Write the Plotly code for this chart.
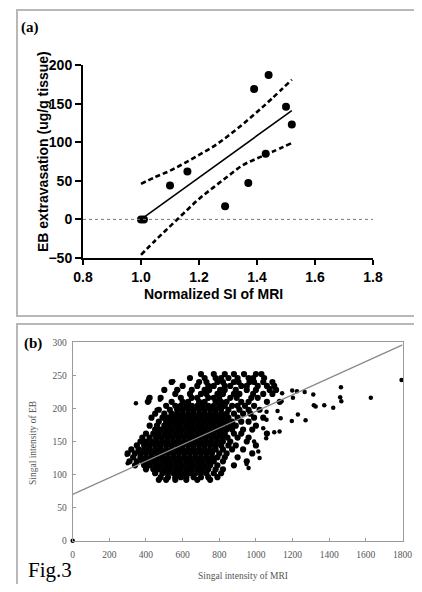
import plotly.graph_objects as go

# ---------------- Panel (a) data ----------------
a_x = [1.00, 1.01, 1.10, 1.16, 1.29, 1.37, 1.39, 1.43, 1.44, 1.50, 1.52]
a_y = [0, 0, 44, 62, 17, 47, 169, 85, 187, 146, 123]

fit_a_x = [1.00, 1.52]
fit_a_y = [0, 141]

band_x = [1.00, 1.05, 1.10, 1.15, 1.20, 1.25, 1.30, 1.35, 1.40, 1.45, 1.52]
band_upper = [46, 55, 63, 73, 83.5, 94.5, 108, 123, 139, 156, 181]
band_lower = [-46, -27, -9, 9, 26.5, 41.5, 56, 70, 79, 87, 99]

a_xticks = [0.8, 1.0, 1.2, 1.4, 1.6, 1.8]
a_yticks = [-50, 0, 50, 100, 150, 200]

# ---------------- Panel (b) data ----------------
cloud_rows = {
    252: [700, 770, 830, 880, 935, 1000, 1030],
    246: [640, 720, 780, 810, 850, 900, 960, 985, 1045],
    240: [540, 690, 730, 790, 820, 880, 905, 965, 990, 1040, 1090],
    234: [600, 680, 740, 770, 830, 860, 920, 950, 1010, 1060, 1100],
    228: [500, 570, 650, 720, 745, 805, 830, 890, 950, 1000, 1075, 1110],
    222: [560, 640, 700, 730, 790, 820, 880, 910, 985, 1040, 1090],
    216: [420, 480, 590, 650, 680, 740, 770, 800, 860, 895, 975, 1010],
    210: [410, 540, 600, 630, 690, 720, 780, 810, 840, 920, 960, 1060, 1130],
    204: [510, 560, 590, 620, 650, 680, 710, 740, 770, 800, 830, 870, 900, 940, 990],
    198: [470, 530, 570, 600, 630, 660, 690, 720, 750, 780, 810, 850, 910, 960, 1020],
    192: [450, 500, 540, 570, 600, 630, 660, 690, 720, 750, 780, 810, 840, 880, 930, 970],
    186: [430, 490, 520, 550, 580, 610, 640, 670, 700, 730, 760, 790, 820, 850, 900, 990, 1040],
    180: [470, 510, 540, 570, 600, 630, 660, 690, 720, 750, 780, 810, 840, 870, 920, 960],
    174: [420, 460, 500, 530, 560, 590, 620, 650, 680, 710, 740, 770, 800, 830, 860, 890, 1000],
    168: [450, 480, 510, 540, 570, 600, 630, 660, 690, 720, 750, 780, 810, 840, 870, 930, 980],
    162: [400, 440, 470, 500, 530, 560, 590, 620, 650, 680, 710, 740, 770, 800, 830, 880, 920, 1060],
    156: [380, 420, 455, 485, 515, 545, 575, 605, 635, 665, 695, 725, 755, 785, 815, 845, 900, 960],
    150: [370, 400, 430, 460, 490, 520, 550, 580, 610, 640, 670, 700, 730, 760, 790, 820, 860, 950],
    144: [350, 390, 420, 450, 480, 510, 540, 570, 600, 630, 660, 690, 720, 750, 780, 810, 850, 890, 1000],
    138: [320, 360, 390, 420, 450, 480, 510, 540, 570, 600, 630, 660, 690, 720, 750, 780, 820, 870, 930],
    132: [300, 340, 370, 400, 430, 460, 490, 520, 550, 580, 610, 640, 670, 700, 730, 760, 800, 840, 980],
    126: [330, 370, 400, 430, 460, 490, 520, 550, 580, 610, 640, 670, 700, 730, 760, 790, 830, 900],
    120: [310, 350, 380, 410, 440, 470, 500, 530, 560, 590, 620, 650, 680, 710, 740, 770, 820, 950],
    114: [340, 390, 420, 450, 480, 510, 540, 570, 600, 630, 660, 690, 720, 750, 790, 880],
    108: [400, 440, 470, 500, 530, 560, 590, 620, 650, 680, 710, 740, 780, 820],
    102: [450, 490, 520, 550, 580, 610, 640, 670, 700, 730, 770, 810],
    96: [480, 520, 560, 590, 620, 660, 700, 740, 790],
    92: [470, 510, 560, 620, 680, 750],
}

sparse_x = [0, 300, 295, 345, 413, 418, 458, 476, 503, 549, 576, 1058, 1058, 1056, 1076,
            1100, 1129, 1135, 1118, 1143, 1140, 1196, 1198, 1202, 1224, 1229, 1266, 1271,
            1313, 1316, 1326, 1373, 1422, 1460, 1464, 1466, 1627, 1795, 949, 1013, 990,
            1020, 1040, 960]
sparse_y = [0, 117, 130, 208, 215, 211, 198, 213, 228, 241, 228, 195, 183, 155, 231,
            164, 165, 185, 196, 223, 211, 181, 227, 216, 226, 191, 225, 182,
            221, 205, 203, 205, 201, 217, 232, 211, 216, 243, 116, 135, 150,
            125, 170, 110]

fit_b_x = [0, 1800]
fit_b_y = [70, 296]

b_xticks = [0, 200, 400, 600, 800, 1000, 1200, 1400, 1600, 1800]
b_yticks = [0, 50, 100, 150, 200, 250, 300]

cloud_x = []
cloud_y = []
for yv, xs in cloud_rows.items():
    for xv in xs:
        cloud_x.append(xv)
        cloud_y.append(yv)

# The page body has an 8px margin: draw into a 414x576 figure so the whole page is 422x592.
OFF = 8
W, H = 422 - OFF, 592 - 2 * OFF


def px(x):
    return (x - OFF) / W


def py(y):
    return 1 - (y - OFF) / H


fig = go.Figure()

# Panel (a)
fig.add_trace(go.Scatter(x=band_x, y=band_upper, mode="lines", line_shape="spline",
                         line=dict(color="black", width=2.6, dash="5px,3px"),
                         xaxis="x", yaxis="y", showlegend=False))
fig.add_trace(go.Scatter(x=band_x, y=band_lower, mode="lines", line_shape="spline",
                         line=dict(color="black", width=2.6, dash="5px,3px"),
                         xaxis="x", yaxis="y", showlegend=False))
fig.add_trace(go.Scatter(x=fit_a_x, y=fit_a_y, mode="lines",
                         line=dict(color="black", width=1.6),
                         xaxis="x", yaxis="y", showlegend=False))
fig.add_trace(go.Scatter(x=a_x, y=a_y, mode="markers",
                         marker=dict(color="black", size=8),
                         xaxis="x", yaxis="y", showlegend=False, cliponaxis=False))

# Panel (b)
fig.add_trace(go.Scatter(x=cloud_x, y=cloud_y, mode="markers",
                         marker=dict(color="black", size=6.2),
                         xaxis="x2", yaxis="y2", showlegend=False))
fig.add_trace(go.Scatter(x=sparse_x, y=sparse_y, mode="markers",
                         marker=dict(color="black", size=4.5),
                         xaxis="x2", yaxis="y2", showlegend=False, cliponaxis=False))
fig.add_trace(go.Scatter(x=fit_b_x, y=fit_b_y, mode="lines",
                         line=dict(color="#8a8a8a", width=1.3),
                         xaxis="x2", yaxis="y2", showlegend=False))

bold_font = dict(family="Liberation Sans, Arial, sans-serif", size=14, color="black", weight="bold")
serif_small = dict(family="Liberation Serif, Times New Roman, serif", size=9.5, color="#555555")


def ann(text, x, y, font, angle=0):
    return dict(text=text, x=px(x), y=py(y), xref="paper", yref="paper",
                xanchor="center", yanchor="middle", showarrow=False,
                textangle=angle, font=font)


fig.update_layout(
    template="none",
    width=W, height=H,
    margin=dict(l=0, r=0, t=0, b=0, pad=0),
    paper_bgcolor="white", plot_bgcolor="white",
    xaxis=dict(domain=[px(83), px(373)], range=[0.8, 1.8], tickvals=a_xticks,
               ticktext=[f"{v:.1f}" for v in a_xticks], automargin=False,
               showline=True, linecolor="black", linewidth=2, ticks="outside",
               ticklen=5, tickwidth=2, tickcolor="black", tickfont=bold_font,
               showgrid=False, zeroline=False, anchor="y", ticklabelstandoff=0),
    yaxis=dict(domain=[py(258), py(65)], range=[-50, 200], tickvals=a_yticks,
               automargin=False,
               showline=True, linecolor="black", linewidth=2, ticks="outside",
               ticklen=6, tickwidth=2, tickcolor="black", tickfont=bold_font,
               showgrid=False, zeroline=False, anchor="x"),
    xaxis2=dict(domain=[px(72.7), px(402.5)], range=[0, 1800], tickvals=b_xticks,
                automargin=False,
                showline=True, mirror=True, linecolor="#9a9a9a", linewidth=1,
                ticks="inside", ticklen=3, tickcolor="#9a9a9a", tickfont=serif_small,
                showgrid=False, zeroline=False, anchor="y2", ticklabelstandoff=5),
    yaxis2=dict(domain=[py(540.7), py(342.3)], range=[0, 300], tickvals=b_yticks,
                automargin=False,
                showline=True, mirror=True, linecolor="#9a9a9a", linewidth=1,
                ticks="inside", ticklen=3, tickcolor="#9a9a9a", tickfont=serif_small,
                showgrid=False, zeroline=False, anchor="x2", ticklabelstandoff=3),
    shapes=[
        dict(type="rect", xref="paper", yref="paper", x0=px(17), x1=px(418),
             y0=py(316), y1=py(10), line=dict(color="#b8b8b8", width=2)),
        dict(type="rect", xref="paper", yref="paper", x0=px(17), x1=px(418),
             y0=py(600), y1=py(324), line=dict(color="#b8b8b8", width=2)),
        dict(type="line", xref="x", yref="y", x0=0.8, x1=1.8, y0=0, y1=0,
             line=dict(color="#777777", width=1, dash="dot")),
    ],
    annotations=[
        ann("(a)", 30, 28, dict(family="Liberation Serif, Times New Roman, serif", size=15,
                                color="black", weight="bold")),
        ann("EB extravasation (ug/g tissue)", 43, 152, bold_font, -90),
        ann("Normalized SI of MRI", 213, 294, bold_font),
        ann("(b)", 33, 343, dict(family="Liberation Serif, Times New Roman, serif", size=15,
                                 color="black", weight="bold")),
        ann("Singal intensity of EB", 33, 443, serif_small, -90),
        ann("Singal intensity of MRI", 243, 576, serif_small),
        ann("Fig.3", 50, 570, dict(family="Liberation Serif, Times New Roman, serif", size=21,
                                   color="black")),
    ],
)

fig.write_html("out.html")
